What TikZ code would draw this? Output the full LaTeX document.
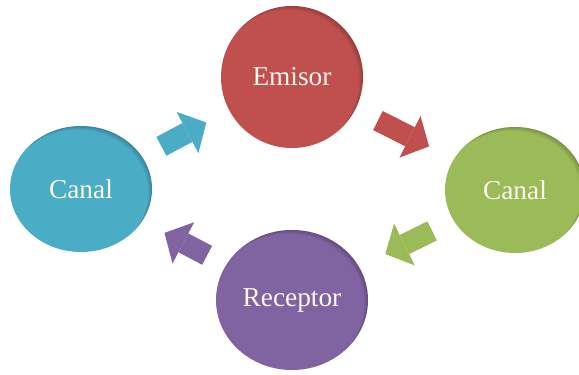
\documentclass[tikz,border=0pt]{standalone}
\usepackage{fontspec}
\setmainfont{Liberation Serif}
\usepackage{xcolor}
\usepackage{tikz}
\usetikzlibrary{arrows.meta,positioning,shapes.geometric}
\definecolor{rojo}{HTML}{C0504D}
\definecolor{verde}{HTML}{9BBB59}
\definecolor{morado}{HTML}{8064A2}
\definecolor{azul}{HTML}{4BACC6}
\definecolor{crema}{HTML}{FBF7EE}
\tikzset{
  blob/.style 2 args={ellipse,inner sep=0pt,outer sep=0pt,minimum width=2*#1,minimum height=2*#2,
    text=crema,font=\fontsize{20.5}{24}\selectfont,
    path picture={\foreach \s in {1,2,3,4}{\draw[black,opacity=0.05,line width=10pt]
      ([shift={(-0.7*\s pt,-0.7*\s pt)}]path picture bounding box.center) ellipse [x radius=#1+5pt,y radius=#2+5pt];}}},
  arr/.style={-{Triangle[length=16pt,width=35pt,line width=0pt]},line width=16pt,draw=#1}}
\begin{document}
\begin{tikzpicture}[x=0.75pt,y=0.75pt]
\useasboundingbox (0,0) rectangle (579,375);
\node[blob={53.25pt}{53.25pt},fill=rojo] (emisor) at (292,298) {Emisor};
\node[blob={53.25pt}{47.25pt},fill=azul] (canalA) at (81,186) {Canal};
\node[blob={52.5pt}{47.25pt},fill=verde] (canalB) at (515,185) {Canal};
\node[blob={57pt}{52.5pt},fill=morado] (receptor) at (292,75) {Receptor};
% flechas entre los circulos
\draw[arr=azul,shorten <=16.5pt,shorten >=19.5pt] (canalA) -- (emisor);
\draw[arr=rojo,shorten <=19pt,shorten >=21pt] (emisor) -- (canalB);
\draw[arr=verde,shorten <=18pt,shorten >=22pt] (canalB) -- (receptor);
\draw[arr=morado,shorten <=16pt,shorten >=19pt] (receptor) -- (canalA);
\end{tikzpicture}
\end{document}
